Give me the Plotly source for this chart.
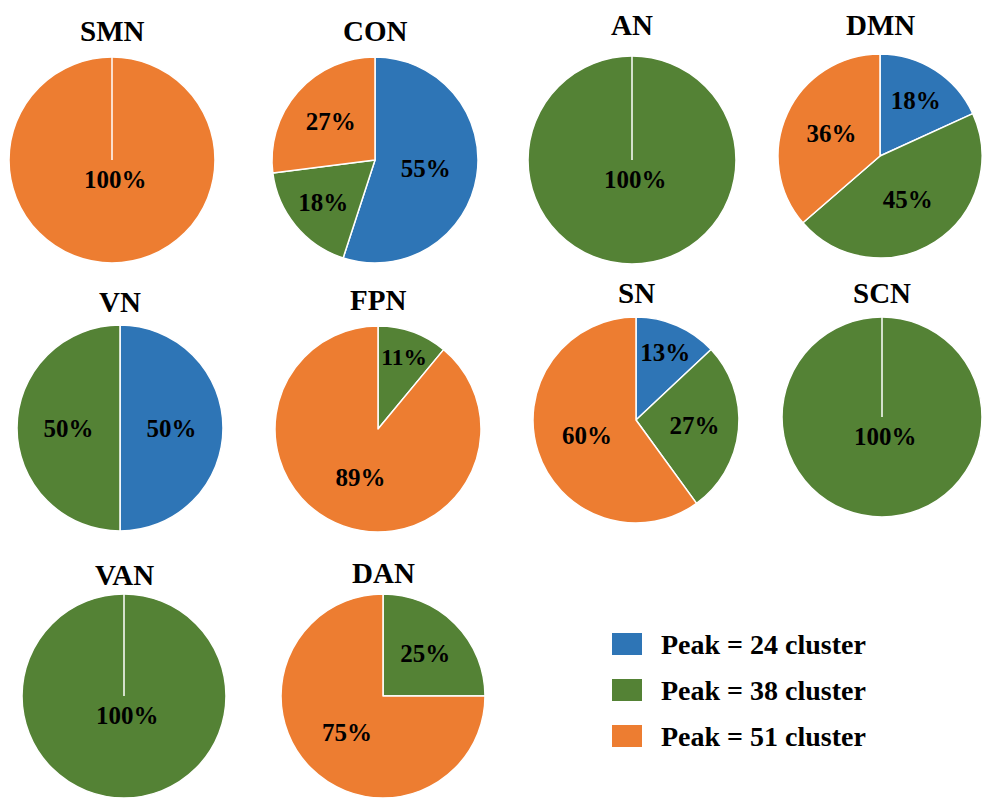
import plotly.graph_objects as go

# Share of nodes in each network assigned to each peak cluster (%)
networks = ["SMN", "CON", "AN", "DMN", "VN", "FPN", "SN", "SCN", "VAN", "DAN"]
peak24 = [0, 55, 0, 18, 50, 0, 13, 0, 0, 0]
peak38 = [0, 18, 100, 45, 50, 11, 27, 100, 100, 25]
peak51 = [100, 27, 0, 36, 0, 89, 60, 0, 0, 75]
cluster_labels = ["Peak = 24 cluster", "Peak = 38 cluster", "Peak = 51 cluster"]

COLORS = {"Peak = 24 cluster": "#2E75B6",
          "Peak = 38 cluster": "#548235",
          "Peak = 51 cluster": "#ED7D31"}

W, H = 982, 798
SERIF = "Liberation Serif, Times New Roman, serif"
LABEL_SIZE = 25

# pixel layout of each pie: centre x, centre y, radius, title y
layout_px = {
    "SMN": (112, 160, 103, 31),
    "CON": (375, 160, 103, 31),
    "AN":  (632, 160, 104, 25),
    "DMN": (880, 156, 102, 25),
    "VN":  (120, 428, 103, 302),
    "FPN": (378, 429, 103, 300),
    "SN":  (636, 420, 103, 293),
    "SCN": (882, 417, 100, 293),
    "VAN": (124, 696, 102, 575),
    "DAN": (383, 696, 102, 573),
}

fig = go.Figure()
annotations = []
shapes = []

for i, name in enumerate(networks):
    cx, cy, r, ty = layout_px[name]
    vals = [peak24[i], peak38[i], peak51[i]]
    labs = [l for l, v in zip(cluster_labels, vals) if v > 0]
    vs = [v for v in vals if v > 0]
    single = len(vs) == 1
    fig.add_trace(go.Pie(
        labels=labs,
        values=vs,
        text=[f"{v}%" for v in vs],
        textinfo="text",
        textposition="none" if single else "inside",
        insidetextorientation="horizontal",
        textfont=dict(family=SERIF, size=LABEL_SIZE, color="black", weight="bold"),
        marker=dict(colors=[COLORS[l] for l in labs],
                    line=dict(color="white", width=1.5)),
        sort=False,
        direction="clockwise",
        rotation=0,
        hoverinfo="label+text",
        showlegend=False,
        domain=dict(x=[(cx - r) / W, (cx + r) / W],
                    y=[1 - (cy + r) / H, 1 - (cy - r) / H]),
    ))
    annotations.append(dict(
        x=cx / W, y=1 - ty / H, xref="paper", yref="paper",
        text=f"<b>{name}</b>", showarrow=False,
        xanchor="center", yanchor="middle",
        font=dict(family=SERIF, size=29, color="black"),
    ))
    if single:
        # slice boundary at 12 o'clock, value label just below the centre
        shapes.append(dict(
            type="line", xref="paper", yref="paper",
            x0=cx / W, x1=cx / W, y0=1 - cy / H, y1=1 - (cy - r) / H,
            line=dict(color="white", width=1.5),
        ))
        annotations.append(dict(
            x=(cx + 3) / W, y=1 - (cy + 19) / H, xref="paper", yref="paper",
            text=f"<b>{vs[0]}%</b>", showarrow=False,
            xanchor="center", yanchor="middle",
            font=dict(family=SERIF, size=LABEL_SIZE, color="black"),
        ))

# legend
for k, lab in enumerate(cluster_labels):
    yc = 644 + 46 * k
    shapes.append(dict(
        type="rect", xref="paper", yref="paper",
        x0=612 / W, x1=642 / W, y0=1 - (yc + 11) / H, y1=1 - (yc - 11) / H,
        fillcolor=COLORS[lab], line=dict(width=0),
    ))
    annotations.append(dict(
        x=659 / W, y=1 - yc / H, xref="paper", yref="paper",
        text=f"<b>{lab}</b>", showarrow=False,
        xanchor="left", yanchor="middle",
        font=dict(family=SERIF, size=28, color="black"),
    ))

fig.update_layout(
    width=W, height=H,
    margin=dict(l=0, r=0, t=0, b=0),
    paper_bgcolor="white",
    plot_bgcolor="white",
    annotations=annotations,
    shapes=shapes,
)

fig.write_html("out.html")
